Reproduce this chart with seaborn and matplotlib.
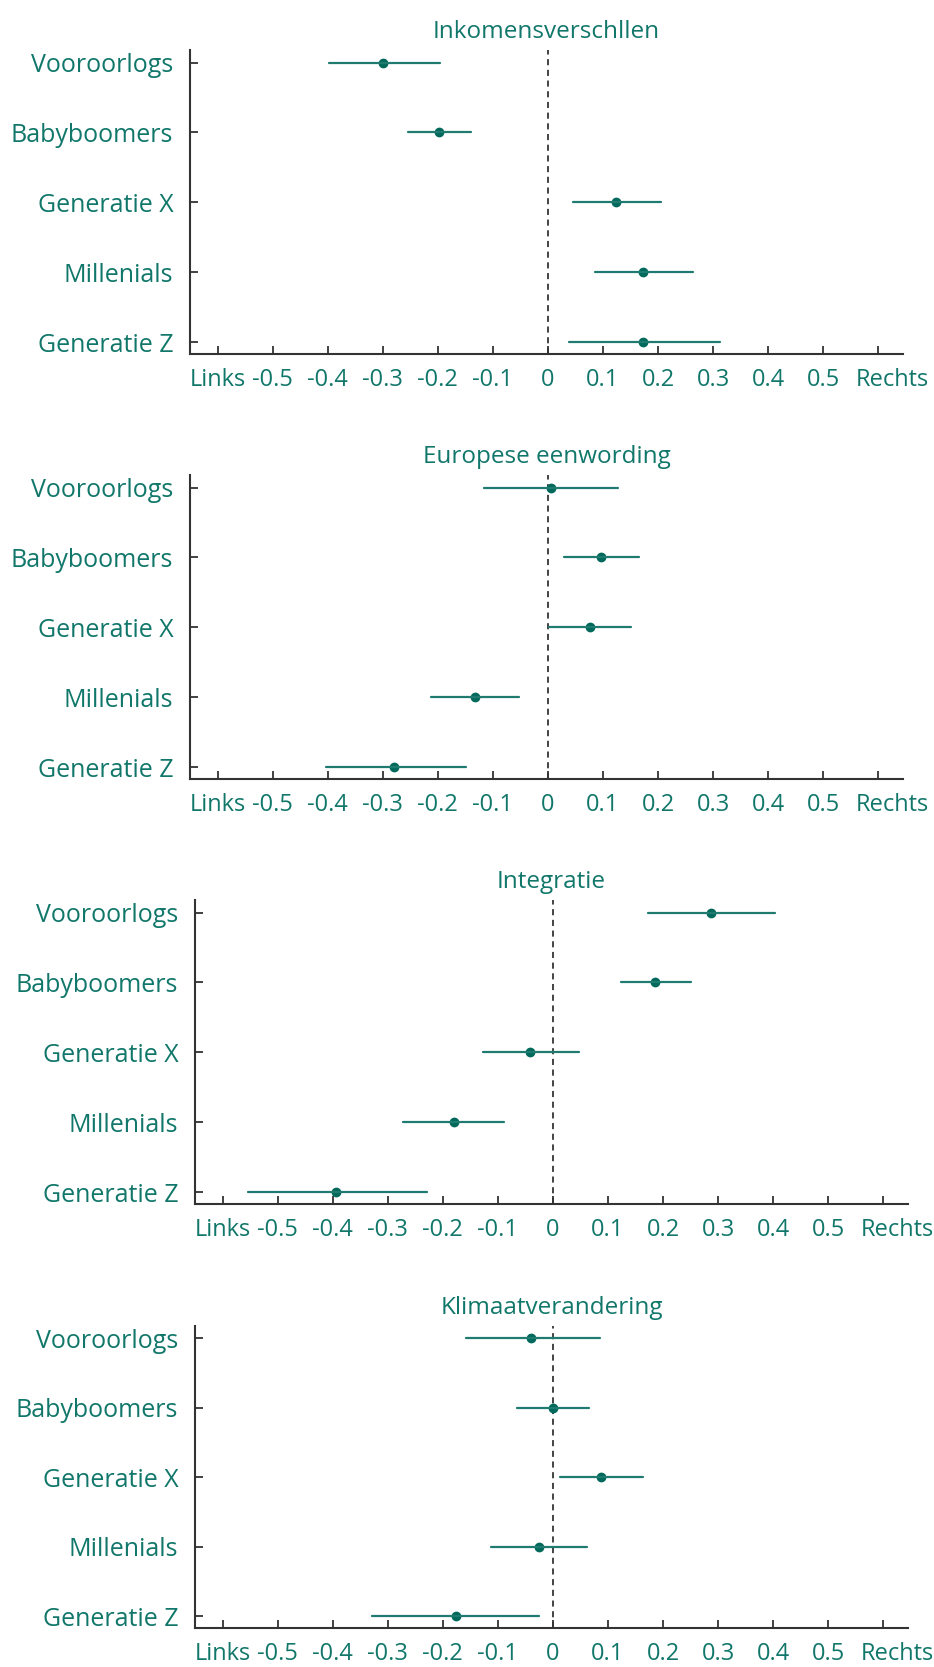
# generaties per thema: puntschatting + interval
import pandas as pd
import matplotlib
matplotlib.use("Agg")
import matplotlib.pyplot as plt
import matplotlib.transforms as mtransforms
import seaborn as sns

generaties = ["Vooroorlogs", "Babyboomers", "Generatie X", "Millenials", "Generatie Z"]
themas = ["Inkomensverschllen", "Europese eenwording", "Integratie", "Klimaatverandering"]

# schatting, ondergrens, bovengrens (per thema, volgorde = generaties)
inkomen_est = [-0.30, -0.198, 0.124, 0.172, 0.172]
inkomen_lo = [-0.397, -0.254, 0.045, 0.085, 0.039]
inkomen_hi = [-0.196, -0.140, 0.205, 0.264, 0.312]

europa_est = [0.006, 0.097, 0.076, -0.132, -0.279]
europa_lo = [-0.116, 0.029, 0.002, -0.213, -0.403]
europa_hi = [0.128, 0.165, 0.151, -0.052, -0.149]

integratie_est = [0.288, 0.186, -0.042, -0.179, -0.393]
integratie_lo = [0.173, 0.123, -0.127, -0.272, -0.554]
integratie_hi = [0.403, 0.250, 0.047, -0.088, -0.229]

klimaat_est = [-0.039, 0.0, 0.088, -0.025, -0.176]
klimaat_lo = [-0.158, -0.066, 0.013, -0.112, -0.329]
klimaat_hi = [0.085, 0.066, 0.163, 0.062, -0.025]

xticks = [-0.6, -0.5, -0.4, -0.3, -0.2, -0.1, 0, 0.1, 0.2, 0.3, 0.4, 0.5, 0.6]
xticklabels = ["Links", "-0.5", "-0.4", "-0.3", "-0.2", "-0.1", "0",
               "0.1", "0.2", "0.3", "0.4", "0.5", "Rechts"]

reeksen = [
    (inkomen_est, inkomen_lo, inkomen_hi),
    (europa_est, europa_lo, europa_hi),
    (integratie_est, integratie_lo, integratie_hi),
    (klimaat_est, klimaat_lo, klimaat_hi),
]

# long-form: per generatie drie waarden -> mediaan = schatting, min/max = interval
rows = []
for thema, (est, lo, hi) in zip(themas, reeksen):
    for g, e, l, h in zip(generaties, est, lo, hi):
        for v in (l, e, h):
            rows.append({"thema": thema, "generatie": g, "waarde": v})
df = pd.DataFrame(rows)

sns.set_style("ticks")
plt.rcParams["font.family"] = ["Open Sans", "DejaVu Sans"]

teal = "#00695c"
tekst = "#11776a"
lijn = "#1f7a70"
spine_kleur = "#333333"

fig = plt.figure(figsize=(9.34, 16.67), dpi=100)
H = 1667
tops = [50, 475, 900, 1326]
bottoms = [354, 779, 1204, 1628]
lefts = [190, 190, 195, 195]

for i, thema in enumerate(themas):
    left = lefts[i] / 934
    width = 713 / 934
    ax = fig.add_axes([left, 1 - bottoms[i] / H, width, (bottoms[i] - tops[i]) / H])
    sub = df[df["thema"] == thema]
    sns.pointplot(
        data=sub, x="waarde", y="generatie", order=generaties,
        estimator="median", errorbar=("pi", 100),
        color=teal, linestyle="none", markersize=5,
        err_kws={"color": lijn, "linewidth": 1.6},
        orient="h", ax=ax,
    )
    ax.axvline(0, color="#111111", linestyle=(0, (4, 3)), linewidth=1.1, zorder=0)
    ax.set_xlim(-0.65, 0.645)
    ax.set_ylim(4.17, -0.18)
    ax.set_xticks(xticks)
    ax.set_xticklabels(xticklabels)
    ax.set_xlabel("")
    ax.set_ylabel("")
    ax.set_title(thema, color=tekst, fontsize=17.5, pad=9)
    for s in ["top", "right"]:
        ax.spines[s].set_visible(False)
    for s in ["left", "bottom"]:
        ax.spines[s].set_color(spine_kleur)
        ax.spines[s].set_linewidth(1.5)
    ax.tick_params(axis="both", direction="in", length=6, width=1.3,
                   color=spine_kleur, labelcolor=tekst,
                   bottom=True, left=True)
    ax.tick_params(axis="y", pad=12, labelsize=18)
    ax.tick_params(axis="x", pad=10, labelsize=17)
    # "Rechts" staat iets rechts van zijn tick
    rechts = ax.get_xticklabels()[-1]
    rechts.set_transform(rechts.get_transform()
                         + mtransforms.ScaledTranslation(0.14, 0, fig.dpi_scale_trans))

fig.savefig("out.png", dpi=100)
